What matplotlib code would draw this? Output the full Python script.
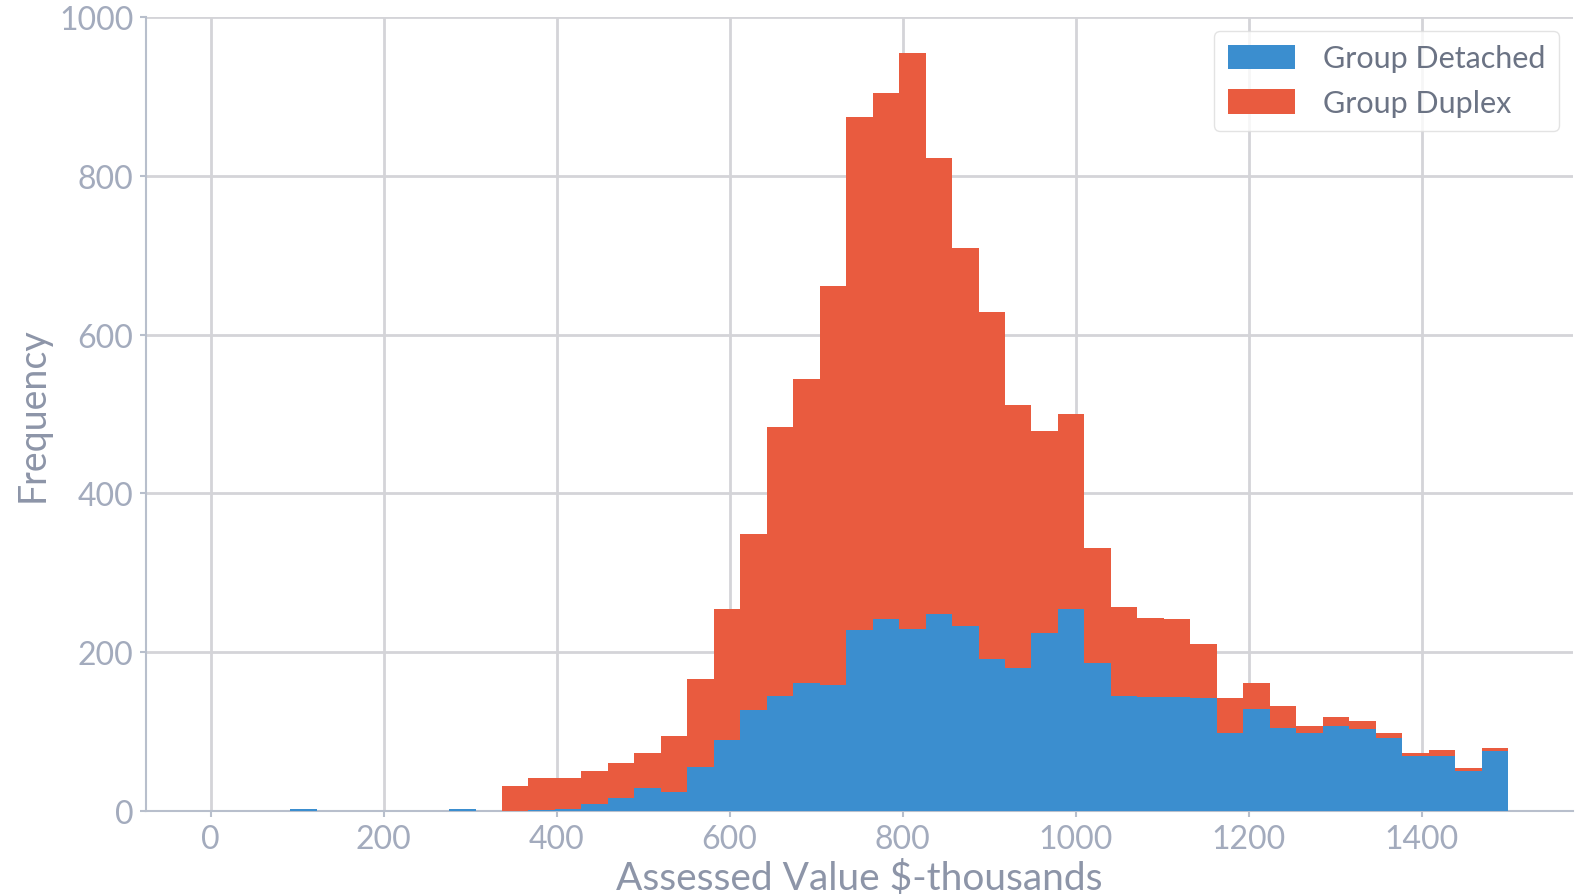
import numpy as np
import matplotlib
matplotlib.use("Agg")
import matplotlib.pyplot as plt

# bin edges (49 bins from 0 to 1500)
edges = np.linspace(0, 1500, 50)

# counts per bin
detached = [0, 0, 0, 2, 0, 0, 0, 0, 0, 2,
            0, 0, 1, 3, 9, 16, 29, 24, 56, 89,
            127, 145, 161, 159, 228, 242, 229, 248, 233, 191,
            180, 224, 254, 187, 145, 144, 144, 142, 98, 128,
            105, 98, 107, 103, 92, 69, 69, 51, 75]
total = [0, 0, 0, 2, 0, 0, 0, 0, 0, 2,
         0, 31, 42, 42, 51, 60, 73, 94, 166, 255,
         349, 483, 544, 661, 874, 904, 955, 822, 709, 628,
         511, 478, 500, 331, 257, 243, 242, 210, 142, 161,
         132, 107, 119, 114, 98, 73, 77, 54, 79]
duplex = [t - d for t, d in zip(total, detached)]

labels = ['Group Detached', 'Group Duplex']
colors = ['#3b8ecf', '#e95b3f']

plt.rcParams['font.family'] = ['Lato', 'DejaVu Sans']
txt = '#a3abbd'

fig = plt.figure(figsize=(15.76, 8.95), dpi=100)
ax = fig.add_axes([0.0926, 0.0927, 0.9054, 0.8873])

centers = (edges[:-1] + edges[1:]) / 2
ax.hist([centers, centers], bins=edges, weights=[detached, duplex],
        stacked=True, color=colors, label=labels, histtype='bar',
        rwidth=1.0, linewidth=0, zorder=3)

ax.set_xlim(-75, 1575)
ax.set_ylim(0, 1000)
ax.set_xticks(range(0, 1401, 200))
ax.set_yticks(range(0, 1001, 200))
ax.grid(True, color='#d4d4d8', linewidth=2, zorder=0)
ax.set_axisbelow(True)

for s in ['top', 'right']:
    ax.spines[s].set_visible(False)
for s in ['left', 'bottom']:
    ax.spines[s].set_color('#b8bfcc')
    ax.spines[s].set_linewidth(1.5)
ax.tick_params(axis='both', colors='#b8bfcc', labelcolor=txt,
               labelsize=23, length=4, width=1.5, pad=5)

ax.set_xlabel('Assessed Value $-thousands', fontsize=28, color='#8d95a8', labelpad=4)
ax.set_ylabel('Frequency', fontsize=27, color='#8d95a8', labelpad=6)

leg = ax.legend(loc='upper right', fontsize=22, handlelength=2.2, handleheight=0.85,
                handletextpad=0.9, borderpad=0.45, labelspacing=0.55,
                borderaxespad=0.45, frameon=True, fancybox=True,
                bbox_to_anchor=(1.0, 1.0))
leg.get_frame().set_edgecolor('#dddddd')
for t in leg.get_texts():
    t.set_color('#6b7384')

fig.savefig('out.png', dpi=100)
